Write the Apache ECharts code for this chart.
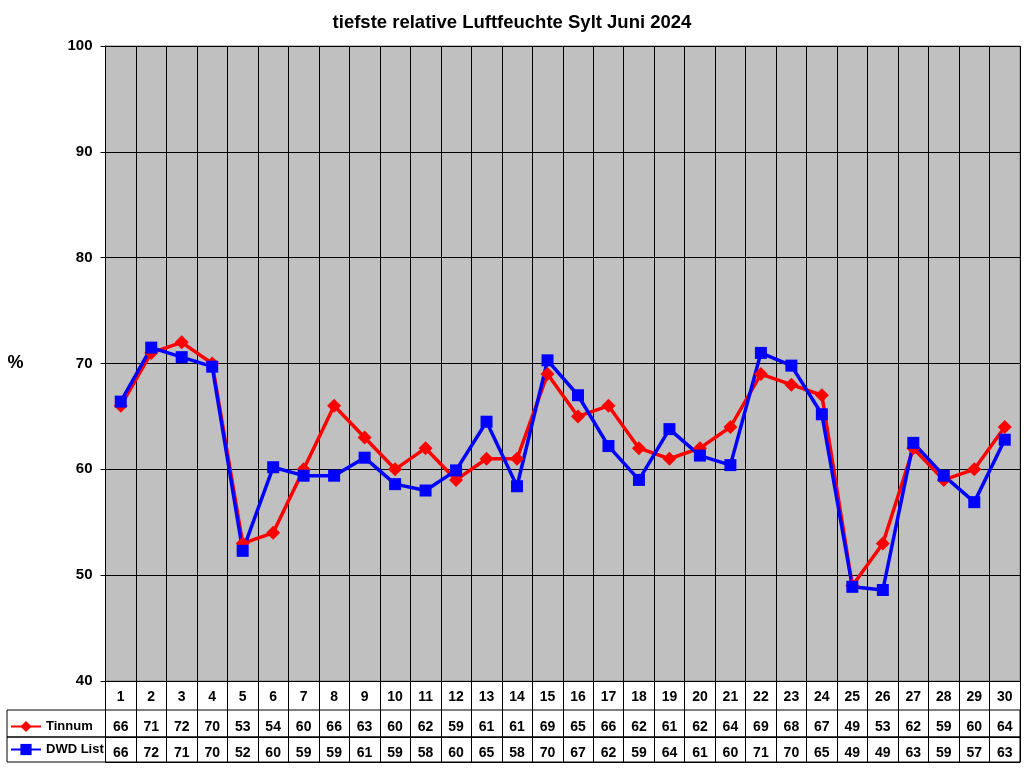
<!DOCTYPE html>
<html>
<head>
<meta charset="utf-8">
<script src="https://cdn.jsdelivr.net/npm/echarts@6/dist/echarts.min.js"></script>
<style>
html,body{margin:0;padding:0;background:#fff;}
#chart{width:1024px;height:768px;}
</style>
</head>
<body>
<div id="chart"></div>
<script>
const days = ['1','2','3','4','5','6','7','8','9','10','11','12','13','14','15','16','17','18','19','20','21','22','23','24','25','26','27','28','29','30'];
const tinnum = [66,71,72,70,53,54,60,66,63,60,62,59,61,61,69,65,66,62,61,62,64,69,68,67,49,53,62,59,60,64];
const dwdList = [66.4,71.5,70.6,69.7,52.3,60.2,59.4,59.4,61.1,58.6,58.0,59.9,64.5,58.4,70.3,67.0,62.2,59.0,63.8,61.3,60.4,71.0,69.8,65.2,48.9,48.6,62.5,59.4,56.9,62.8];
const yTicks = [40,50,60,70,80,90,100];

const FONT = '"Liberation Sans", Arial, sans-serif';
const chart = echarts.init(document.getElementById('chart'), null, {renderer:'canvas'});

const PL = 105.5, PR = 4;
const gridBase = {containLabel: false, outerBoundsMode: 'none'};
const rowAxis = (gi, vals, margin) => ({
  gridIndex: gi, type: 'category', data: days, position: 'top',
  axisLine: {show: true, lineStyle: {color: '#000', width: 1}},
  axisTick: {show: false},
  axisLabel: {inside: true, margin: margin, interval: 0, color: '#000', fontFamily: FONT, fontWeight: 'bold', fontSize: 14,
    formatter: (v, i) => String(Math.round(vals[i]))},
  splitLine: {show: true, interval: 0, lineStyle: {color: '#000', width: 1}}
});

chart.setOption({
  backgroundColor: '#fff',
  animation: false,
  title: {
    text: 'tiefste relative Luftfeuchte Sylt Juni 2024',
    left: 'center', top: 8,
    textStyle: {fontFamily: FONT, fontWeight: 'bold', fontSize: 18.5, color: '#000'}
  },
  legend: {
    orient: 'vertical', left: 10, top: 720, padding: 0,
    itemWidth: 30, itemHeight: 14, itemGap: 10,
    textStyle: {fontFamily: FONT, fontWeight: 'bold', fontSize: 13, color: '#000'},
    data: ['Tinnum', 'DWD List']
  },
  grid: [
    Object.assign({left: PL, right: PR, top: 46, bottom: 87, show: true, backgroundColor: '#C0C0C0', borderColor: '#808080', borderWidth: 1}, gridBase),
    Object.assign({left: PL, right: PR, top: 710, height: 27, show: true, backgroundColor: '#fff', borderColor: '#000', borderWidth: 1}, gridBase),
    Object.assign({left: PL, right: PR, top: 737, height: 25, show: true, backgroundColor: '#fff', borderColor: '#000', borderWidth: 1}, gridBase),
    Object.assign({left: 7, width: PL - 7, top: 710, height: 27, show: true, backgroundColor: 'transparent', borderColor: '#000', borderWidth: 1}, gridBase),
    Object.assign({left: 7, width: PL - 7, top: 737, height: 25, show: true, backgroundColor: 'transparent', borderColor: '#000', borderWidth: 1}, gridBase)
  ],
  xAxis: [
    {
      gridIndex: 0, type: 'category', data: days, boundaryGap: true,
      axisLine: {show: true, lineStyle: {color: '#000', width: 1}},
      axisTick: {show: true, length: 29, interval: 0, lineStyle: {color: '#000'}},
      axisLabel: {margin: 9, interval: 0, color: '#000', fontFamily: FONT, fontWeight: 'bold', fontSize: 14},
      splitLine: {show: true, interval: 0, lineStyle: {color: '#000', width: 1}}
    },
    rowAxis(1, tinnum, 10),
    rowAxis(2, dwdList, 9),
    {gridIndex: 3, type: 'category', data: [], show: false},
    {gridIndex: 4, type: 'category', data: [], show: false}
  ],
  yAxis: [
    {
      gridIndex: 0, type: 'value', min: yTicks[0], max: yTicks[yTicks.length - 1], interval: 10,
      name: '%', nameLocation: 'middle', nameGap: 82, nameRotate: 0,
      nameTextStyle: {fontFamily: FONT, fontWeight: 'bold', fontSize: 18, color: '#000'},
      axisLine: {show: true, lineStyle: {color: '#000', width: 1}},
      axisTick: {show: true, length: 5, lineStyle: {color: '#000'}},
      axisLabel: {margin: 13, color: '#000', fontFamily: FONT, fontWeight: 'bold', fontSize: 15},
      splitLine: {show: true, lineStyle: {color: '#000', width: 1}}
    },
    {gridIndex: 1, type: 'value', show: false},
    {gridIndex: 2, type: 'value', show: false},
    {gridIndex: 3, type: 'value', show: false},
    {gridIndex: 4, type: 'value', show: false}
  ],
  series: [
    {
      name: 'Tinnum', type: 'line', xAxisIndex: 0, yAxisIndex: 0, data: tinnum,
      symbol: 'diamond', symbolSize: 14,
      lineStyle: {color: '#FF0000', width: 3.5},
      itemStyle: {color: '#FF0000'}
    },
    {
      name: 'DWD List', type: 'line', xAxisIndex: 0, yAxisIndex: 0, data: dwdList,
      symbol: 'rect', symbolSize: 12,
      lineStyle: {color: '#0000FF', width: 3.5},
      itemStyle: {color: '#0000FF'}
    }
  ]
});
</script>
</body>
</html>
